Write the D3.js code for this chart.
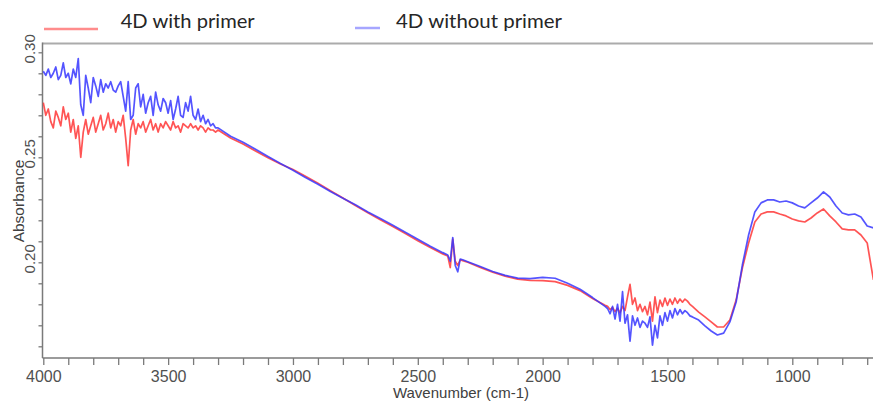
<!DOCTYPE html>
<html><head><meta charset="utf-8">
<script src="https://cdn.jsdelivr.net/npm/d3@7"></script>
<style>body{margin:0;background:#fff;} svg{display:block;}</style>
</head><body><svg id="c" width="873" height="401"></svg>
<script>
const seriesNames = ["4D with primer", "4D without primer"];
const xTitle = "Wavenumber (cm-1)";
const yTitle = "Absorbance";
const xTickLabels = [4000, 3500, 3000, 2500, 2000, 1500, 1000];
const yTickLabels = [0.20, 0.25, 0.30];

const wavenumbers = [
 4000,3990,3980,3970,3960,3950,3940,3930,3920,3910,
 3900,3890,3880,3870,3860,3850,3840,3830,3820,3810,
 3800,3790,3780,3770,3760,3750,3740,3730,3720,3710,
 3700,3690,3680,3670,3660,3650,3640,3630,3620,3610,
 3600,3590,3580,3570,3560,3550,3540,3530,3520,3510,
 3500,3490,3480,3470,3460,3450,3440,3430,3420,3410,
 3400,3390,3380,3370,3360,3350,3340,3330,3320,3310,
 3300,
 3250,3200,3150,3100,3050,3000,2950,2900,2850,2800,2750,2700,2650,2600,2550,2500,2450,2400,
 2380,2370,2360,2350,2340,2330,2320,
 2300,2250,2200,2150,2100,2050,2000,1950,1900,1850,1800,1750,
 1740,1730,1720,1710,1700,1690,1680,1670,1660,1650,
 1640,1630,1620,1610,1600,1590,1580,1570,1560,1550,
 1540,1530,1520,1510,1500,1490,1480,1470,1460,1450,
 1440,1430,1420,1410,1400,
 1375,1350,1325,1300,1275,1250,1225,1200,1175,1150,1125,1100,1075,1050,1025,
 1000,975,950,925,900,875,850,825,800,775,750,725,700,675
];

const withPrimer = [
 0.276,0.270,0.273,0.267,0.264,0.272,0.269,0.265,0.274,0.268,
 0.271,0.262,0.268,0.259,0.265,0.250,0.262,0.268,0.261,0.265,
 0.269,0.262,0.266,0.270,0.263,0.266,0.271,0.264,0.268,0.262,
 0.267,0.265,0.270,0.259,0.246,0.263,0.268,0.261,0.266,0.264,
 0.267,0.262,0.265,0.268,0.263,0.266,0.262,0.266,0.264,0.267,
 0.265,0.263,0.267,0.264,0.265,0.262,0.266,0.265,0.264,0.266,
 0.264,0.265,0.263,0.265,0.264,0.262,0.264,0.263,0.263,0.262,
 0.263,
 0.2592,0.2563,0.2530,0.2498,0.2468,0.2442,0.2410,0.2377,0.2341,0.2306,0.2270,0.2236,0.2203,0.2170,0.2137,0.2103,0.2070,0.2040,
 0.2030,0.1975,0.2110,0.2005,0.1985,0.2012,0.2008,
 0.2000,0.1976,0.1953,0.1934,0.1920,0.1914,0.1913,0.1908,0.1890,0.1865,0.1828,0.1795,
 0.1790,0.1775,0.1785,0.1765,0.1780,0.1760,0.1790,0.1770,0.1835,0.1895,
 0.1800,0.1830,0.1770,0.1800,0.1765,0.1790,0.1750,0.1810,0.1720,0.1835,
 0.1760,0.1820,0.1790,0.1830,0.1795,0.1825,0.1800,0.1830,0.1805,0.1825,
 0.1810,0.1825,0.1815,0.1800,0.1790,
 0.1763,0.1740,0.1716,0.1692,0.1692,0.1725,0.1820,0.1973,0.2092,0.2192,0.2230,0.2240,0.2240,0.2230,0.2221,
 0.2206,0.2197,0.2192,0.2211,0.2235,0.2254,0.2221,0.2192,0.2159,0.2154,0.2154,0.2130,0.2092,0.1916
];

const withoutPrimer = [
 0.291,0.289,0.292,0.288,0.290,0.293,0.287,0.289,0.295,0.288,
 0.290,0.285,0.292,0.288,0.297,0.275,0.270,0.289,0.283,0.276,
 0.288,0.284,0.279,0.287,0.281,0.285,0.283,0.286,0.282,0.281,
 0.284,0.286,0.279,0.272,0.286,0.268,0.270,0.283,0.285,0.274,
 0.280,0.271,0.276,0.279,0.270,0.281,0.275,0.272,0.278,0.276,
 0.271,0.277,0.268,0.273,0.279,0.270,0.269,0.276,0.272,0.279,
 0.270,0.268,0.273,0.267,0.270,0.266,0.268,0.265,0.266,0.264,
 0.264,
 0.2600,0.2572,0.2538,0.2504,0.2470,0.2438,0.2404,0.2372,0.2337,0.2305,0.2274,0.2240,0.2209,0.2176,0.2143,0.2110,0.2076,0.2046,
 0.2035,0.2005,0.2118,0.1985,0.1955,0.2015,0.2012,
 0.2003,0.1980,0.1956,0.1938,0.1925,0.1922,0.1928,0.1924,0.1900,0.1872,0.1832,0.1790,
 0.1780,0.1755,0.1790,0.1730,0.1800,0.1720,0.1860,0.1710,0.1750,0.1625,
 0.1745,0.1700,0.1735,0.1690,0.1720,0.1710,0.1690,0.1740,0.1605,0.1700,
 0.1640,0.1745,0.1700,0.1760,0.1720,0.1770,0.1735,0.1780,0.1750,0.1775,
 0.1755,0.1770,0.1760,0.1745,0.1740,
 0.1725,0.1697,0.1673,0.1654,0.1663,0.1716,0.1811,0.1987,0.2130,0.2240,0.2283,0.2297,0.2297,0.2287,0.2292,
 0.2283,0.2268,0.2259,0.2283,0.2306,0.2335,0.2311,0.2268,0.2235,0.2226,0.2230,0.2216,0.2173,0.2164
];

const lineColors = ["rgb(255,55,55)", "rgb(55,55,255)"];
const legendColors = ["#ff8c8c", "#a6a6ff"];

const svg = d3.select("#c");
const plotL = 42.5, plotT = 43.5, plotB = 358, plotR = 873;

const x = d3.scaleLinear().domain([4000, 1000]).range([43.3, 792.3]);
const y = d3.scaleLinear().domain([0.30, 0.20]).range([52.3, 262.3]);

const defs = svg.append("defs");
defs.append("clipPath").attr("id", "clip").append("rect")
  .attr("x", plotL).attr("y", plotT).attr("width", plotR - plotL).attr("height", plotB - plotT);
const f = defs.append("filter").attr("id", "soft").attr("x", "-5%").attr("y", "-5%").attr("width", "110%").attr("height", "110%");
f.append("feGaussianBlur").attr("stdDeviation", 0.45);

// frame top
svg.append("line").attr("x1", plotL).attr("x2", plotR).attr("y1", plotT).attr("y2", plotT)
  .attr("stroke", "#ababab").attr("stroke-width", 2);

// x axis
const xMinor = d3.range(4000, x.invert(plotR) - 1, -100);
const xAxis = d3.axisBottom(x).tickValues(xMinor).tickSize(7).tickSizeOuter(0)
  .tickFormat(d => xTickLabels.includes(d) ? String(d) : "");
const gx = svg.append("g").attr("transform", `translate(0,${plotB})`).call(xAxis);
gx.select(".domain").remove();
gx.selectAll(".tick line").attr("stroke", "#7a7a7a").attr("stroke-width", 1.3);
gx.selectAll(".tick text").attr("y", 23.5).attr("dy", 0)
  .attr("font-family", "Liberation Sans, Arial, sans-serif").attr("font-size", 16)
  .attr("fill", "#505050");

// y axis
const yMinor = d3.range(16, 31).map(v => v / 100);
const yAxis = d3.axisLeft(y).tickValues(yMinor).tickSize(4).tickSizeOuter(0).tickFormat("");
const gy = svg.append("g").attr("transform", `translate(${plotL},0)`).call(yAxis);
gy.select(".domain").remove();
gy.selectAll(".tick line").attr("stroke", "#7a7a7a").attr("stroke-width", 1.3);
svg.append("g").selectAll("text").data(yTickLabels).join("text")
  .attr("transform", d => `translate(35,${y(d) - 3.5}) rotate(-90)`)
  .attr("text-anchor", "middle")
  .attr("font-family", "Liberation Sans, Arial, sans-serif").attr("font-size", 15)
  .attr("fill", "#505050")
  .text(d => d3.format(".2f")(d));

// axis lines
svg.append("line").attr("x1", plotL).attr("x2", plotL).attr("y1", plotT - 1).attr("y2", plotB)
  .attr("stroke", "#7a7a7a").attr("stroke-width", 1.5);
svg.append("line").attr("x1", plotL).attr("x2", plotR).attr("y1", plotB).attr("y2", plotB)
  .attr("stroke", "#7a7a7a").attr("stroke-width", 1.5);

// titles
svg.append("text").attr("x", 461).attr("y", 398).attr("text-anchor", "middle")
  .attr("font-family", "Liberation Sans, Arial, sans-serif").attr("font-size", 15)
  .attr("fill", "#404040").text(xTitle);
svg.append("text").attr("transform", "translate(24,201) rotate(-90)").attr("text-anchor", "middle")
  .attr("font-family", "Liberation Sans, Arial, sans-serif").attr("font-size", 15.5)
  .attr("fill", "#404040").text(yTitle);

// lines
const line = d3.line().x(d => x(d[0])).y(d => y(d[1]));
const series = [withPrimer, withoutPrimer].map(vals => wavenumbers.map((w, i) => [w, vals[i]]));
const gl = svg.append("g").attr("clip-path", "url(#clip)");
gl.selectAll("path").data(series).join("path")
  .attr("d", line)
  .attr("fill", "none")
  .attr("stroke", (d, i) => lineColors[i])
  .attr("stroke-width", 1.7)
  .attr("stroke-opacity", 0.85)
  .attr("stroke-linejoin", "round")
  .attr("filter", "url(#soft)");

// legend
const legendItems = [
  {x1: 44, x2: 98, ly: 29, tx: 120.7, len: 134},
  {x1: 355, x2: 380, ly: 28, tx: 396, len: 166}
];
const lg = svg.append("g");
legendItems.forEach((it, i) => {
  lg.append("line").attr("x1", it.x1).attr("x2", it.x2).attr("y1", it.ly).attr("y2", it.ly)
    .attr("stroke", legendColors[i]).attr("stroke-width", 2.5);
  lg.append("text").attr("x", it.tx).attr("y", 28.3)
    .attr("font-family", "Lato, sans-serif").attr("font-size", 19)
    .attr("fill", "#262626")
    .attr("textLength", it.len).attr("lengthAdjust", "spacingAndGlyphs")
    .text(seriesNames[i]);
});
</script>
</body></html>
